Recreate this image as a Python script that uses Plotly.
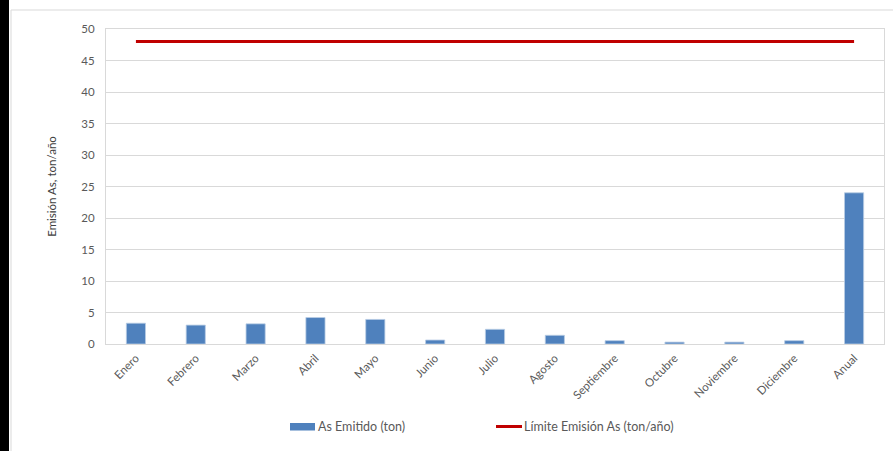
import plotly.graph_objects as go

categories = ["Enero", "Febrero", "Marzo", "Abril", "Mayo", "Junio", "Julio",
              "Agosto", "Septiembre", "Octubre", "Noviembre", "Diciembre", "Anual"]
as_emitido = [3.3, 3.0, 3.2, 4.2, 3.9, 0.63, 2.33, 1.38, 0.53, 0.3, 0.3, 0.53, 24.0]
limite = [48] * len(categories)
y_ticks = [0, 5, 10, 15, 20, 25, 30, 35, 40, 45, 50]
bar_name = "As Emitido (ton)"
line_name = "Límite Emisión As (ton/año)"

BAR_COLOR = "#4F81BD"
LINE_COLOR = "#C00000"
FONT = "Lato"
W, H = 893, 451
L, R, T, B = 106, 9, 29, 107
pw, ph = W - L - R, H - T - B

def px_x(x):
    return (x - L) / pw

def px_y(y):
    return 1 - (y - T) / ph

fig = go.Figure()
fig.add_trace(go.Bar(
    x=categories, y=as_emitido, name=bar_name, showlegend=False,
    marker=dict(color=BAR_COLOR, line=dict(color="#B9CDE5", width=0.8)),
))
fig.add_trace(go.Scatter(
    x=categories, y=limite, name=line_name, showlegend=False,
    mode="lines", line=dict(color=LINE_COLOR, width=3),
))

legend_font = dict(family=FONT, size=12.5, color="#595959")
LEG_Y = 426.5

fig.update_layout(
    width=W, height=H,
    margin=dict(l=L, r=R, t=T, b=B),
    paper_bgcolor="white", plot_bgcolor="white",
    font=dict(family=FONT, size=11, color="#595959"),
    bargap=0.68,
    showlegend=False,
    xaxis=dict(
        tickangle=-45, showline=True, linecolor="#D9D9D9", linewidth=1, mirror=True,
        showgrid=False, ticks="", tickfont=dict(size=11.5, color="#595959"),
        ticklabelstandoff=2,
    ),
    yaxis=dict(
        range=[0, 50], tickvals=y_ticks, showgrid=True, gridcolor="#D9D9D9", gridwidth=1,
        showline=True, linecolor="#D9D9D9", linewidth=1, mirror=True,
        zeroline=False, ticks="", ticklabelstandoff=8,
        title=dict(text="Emisión As, ton/año", font=dict(size=11.5, color="#404040"), standoff=22),
        tickfont=dict(size=11.5, color="#595959"),
    ),
    shapes=[
        dict(type="rect", xref="paper", yref="paper",
             x0=px_x(0), x1=px_x(9), y0=px_y(H), y1=px_y(0),
             fillcolor="black", line=dict(width=0), layer="above"),
        dict(type="line", xref="paper", yref="paper",
             x0=px_x(11), x1=px_x(W), y0=px_y(10), y1=px_y(10),
             line=dict(color="#D9D9D9", width=1)),
        dict(type="line", xref="paper", yref="paper",
             x0=px_x(11), x1=px_x(11), y0=px_y(10), y1=px_y(H),
             line=dict(color="#D9D9D9", width=1)),
        # legend swatches
        dict(type="rect", xref="paper", yref="paper",
             x0=px_x(290), x1=px_x(315), y0=px_y(430.5), y1=px_y(423),
             fillcolor=BAR_COLOR, line=dict(width=0)),
        dict(type="line", xref="paper", yref="paper",
             x0=px_x(496), x1=px_x(522), y0=px_y(LEG_Y), y1=px_y(LEG_Y),
             line=dict(color=LINE_COLOR, width=3)),
    ],
    annotations=[
        dict(text=bar_name, xref="paper", yref="paper", x=px_x(316), y=px_y(LEG_Y),
             xanchor="left", yanchor="middle", showarrow=False, font=legend_font),
        dict(text=line_name, xref="paper", yref="paper", x=px_x(522), y=px_y(LEG_Y),
             xanchor="left", yanchor="middle", showarrow=False, font=legend_font),
    ],
)

fig.write_html("out.html", post_script="document.body.style.margin='0';",
               config={"displayModeBar": False})
